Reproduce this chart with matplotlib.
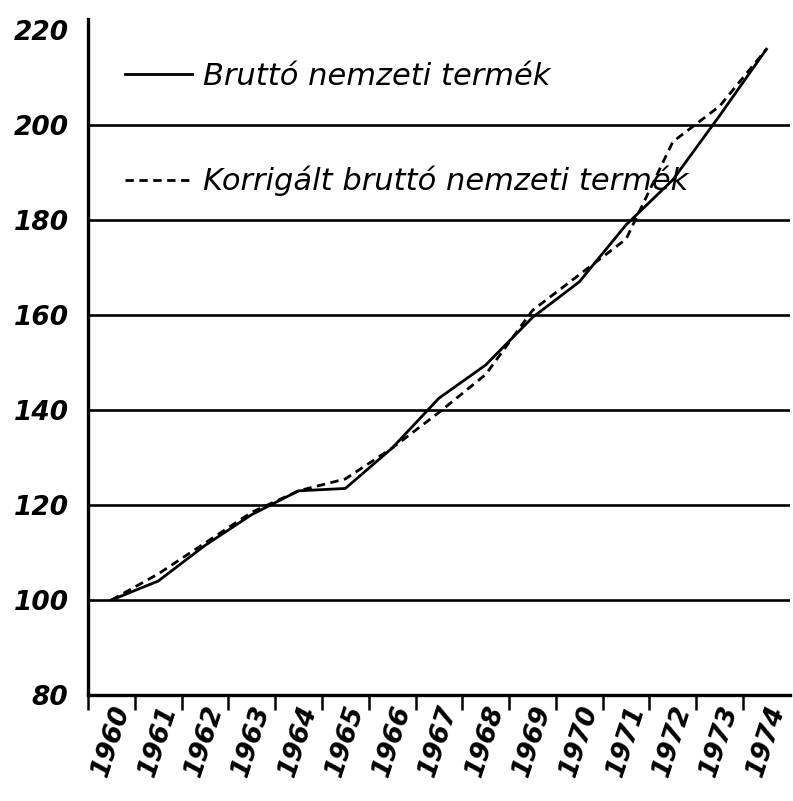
import numpy as np
import matplotlib
matplotlib.use("Agg")
import matplotlib.pyplot as plt
from matplotlib.ticker import FixedLocator

# data (index, 1960 = 100)
years = list(range(1960, 1975))
gnp = [100, 104, 111.5, 118, 123, 123.5, 132, 142.5, 149.5, 159.5, 167, 179, 188.5, 202, 216]
gnp_corr = [100, 105.5, 112, 118.5, 123, 125.5, 132, 139.5, 147.5, 161, 168.5, 176, 196.5, 204, 216]
y_ticks = [80, 100, 120, 140, 160, 180, 200, 220]
labels = ["Bruttó nemzeti termék", "Korrigált bruttó nemzeti termék"]

fig = plt.figure(figsize=(7.93, 8.01), dpi=100)
ax = fig.add_axes([0.111, 0.1323, 0.885, 0.8437])

# horizontal rules
for v in y_ticks[1:-1]:
    ax.axhline(v, color="black", lw=1.9, zorder=1)

ax.plot(years, gnp, color="black", lw=2.0, zorder=3, label=labels[0])
ax.plot(years, gnp_corr, color="black", lw=2.0, linestyle=(0, (3, 2)), zorder=3, label=labels[1])

ax.set_xlim(1959.5, 1974.5)
ax.set_ylim(80, 222.3)

for s in ["top", "right"]:
    ax.spines[s].set_visible(False)
for s in ["left", "bottom"]:
    ax.spines[s].set_linewidth(2.4)

tick_font = dict(family="DejaVu Sans", weight="bold", style="oblique")

ax.set_yticks(y_ticks)
ax.set_yticklabels([str(v) for v in y_ticks], size=19, **tick_font)
ax.tick_params(axis="y", length=0, pad=14)

ax.set_xticks(years)
ax.set_xticklabels([str(y) for y in years], rotation=72, ha="center", size=19, **tick_font)
ax.tick_params(axis="x", which="major", length=0, pad=5)
ax.xaxis.set_minor_locator(FixedLocator([y + 0.5 for y in range(1959, 1974)]))
ax.tick_params(axis="x", which="minor", length=11, width=1.8, direction="out")

leg = ax.legend(loc="upper left", bbox_to_anchor=(0.035, 0.955), frameon=False,
                handlelength=2.2, handletextpad=0.35, labelspacing=2.45,
                borderaxespad=0,
                prop=dict(family="DejaVu Sans", style="italic", size=22))

fig.savefig("out.png", dpi=100)
